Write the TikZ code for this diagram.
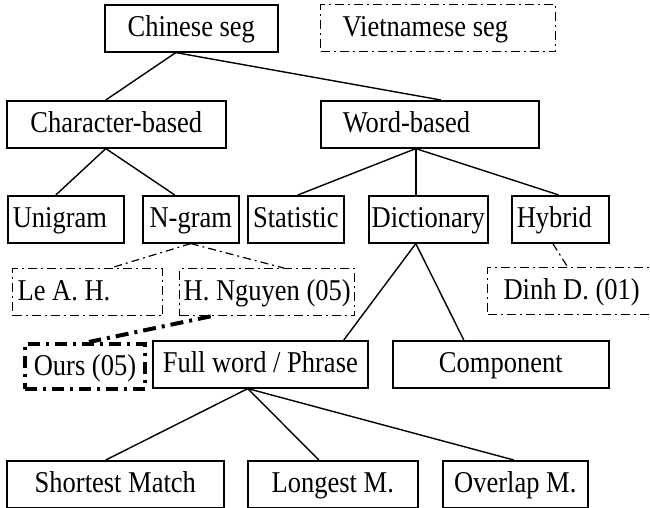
\documentclass[tikz,border=0pt]{standalone}
\usepackage{fontspec}
\setmainfont{Liberation Serif}
\newcommand\figfont{\fontsize{26.5pt}{29pt}\selectfont}
\newcommand\stretchtxt[1]{\scalebox{1}[1.14]{#1}}
\newcommand\lefttxt[2]{\makebox[#1][l]{\stretchtxt{#2}}}
\begin{document}
\begin{tikzpicture}[x=1pt,y=-1pt,
  box/.style={draw, line width=1.6pt, anchor=north west, inner sep=0pt,
    minimum height=47pt, text height=23pt, text depth=6pt, font=\figfont},
  dd/.style={line width=1.3pt, dash pattern=on 9pt off 4pt on 2pt off 4pt},
  ddthick/.style={line width=4pt, dash pattern=on 12pt off 6pt on 3pt off 6pt},
  link/.style={line width=1.4pt},
  dlink/.style={line width=1.2pt, dash pattern=on 8pt off 4pt on 2pt off 4pt},
  tlink/.style={line width=4pt, dash pattern=on 13pt off 6pt on 3pt off 6pt},
  lft/.style={inner xsep=#1}
]
\clip (0,0) rectangle (650,508);
\useasboundingbox (0,0) rectangle (650,508);
% row 0
\node[box, minimum width=173pt] (cs) at (104,4) {\stretchtxt{Chinese seg}};
\node[box, dd, lft=22pt] (vs) at (320,4) {\lefttxt{191pt}{Vietnamese seg}};
% row 1
\node[box, minimum width=219pt] (cb) at (6,100) {\stretchtxt{Character-based}};
\node[box, lft=22pt] (wb) at (320,100) {\lefttxt{174pt}{Word-based}};
% row 2
\node[box, lft=5pt] (uni) at (7,195) {\lefttxt{106pt}{Unigram}};
\node[box, minimum width=96pt] (ng) at (142,195) {\stretchtxt{N-gram}};
\node[box, minimum width=96pt] (st) at (247,195) {\stretchtxt{Statistic}};
\node[box, minimum width=119pt] (dic) at (368,195) {\stretchtxt{Dictionary}};
\node[box, lft=5pt] (hyb) at (511,195) {\lefttxt{87pt}{Hybrid}};
% row 3
\node[box, dd, lft=5pt] (le) at (12,268) {\lefttxt{140pt}{Le A. H.}};
\node[box, dd, minimum width=175pt] (hn) at (179,268) {\stretchtxt{H. Nguyen (05)}};
\node[box, dd, minimum width=168pt] (dinh) at (487,267) {\stretchtxt{Dinh D. (01)}};
% row 4
\node[box, ddthick, minimum width=120pt, minimum height=45pt] (ours) at (23,342) {\stretchtxt{Ours (05)}};
\node[box, minimum width=215pt] (fw) at (152,340) {\stretchtxt{Full word / Phrase}};
\node[box, minimum width=216pt] (comp) at (392,340) {\stretchtxt{Component}};
% row 5
\node[box, minimum width=217pt] (sm) at (6,460) {\stretchtxt{Shortest Match}};
\node[box, minimum width=170pt] (lm) at (247,460) {\stretchtxt{Longest M.}};
\node[box, minimum width=145pt] (om) at (442,460) {\stretchtxt{Overlap M.}};
% connectors
\draw[link] ([xshift=-15.5pt]cs.south) -- ([xshift=-10.5pt]cb.north);
\draw[link] ([xshift=-15.5pt]cs.south) -- ([xshift=11pt]wb.north);
\draw[link] ([xshift=-10.5pt]cb.south) -- ([xshift=-10pt]uni.north);
\draw[link] ([xshift=-10.5pt]cb.south) -- ([xshift=-16pt]ng.north);
\draw[link] ([xshift=-14pt]wb.south) -- ([xshift=2pt]st.north);
\draw[link] ([xshift=-14pt]wb.south) -- ([xshift=-12.5pt]dic.north);
\draw[link] ([xshift=-14pt]wb.south) -- ([xshift=-1.5pt]hyb.north);
\draw[dlink] (ng.south) -- ([xshift=23pt]le.north);
\draw[dlink] (ng.south) -- ([xshift=16.5pt]hn.north);
\draw[dlink] ([xshift=-7.5pt]hyb.south) -- ([xshift=-4pt]dinh.north);
\draw[link] ([xshift=-12.5pt]dic.south) -- ([xshift=83.5pt]fw.north);
\draw[link] ([xshift=-12.5pt]dic.south) -- ([xshift=-37pt]comp.north);
\draw[tlink] ([xshift=-56.5pt]hn.south) -- ([xshift=4pt]ours.north);
\draw[link] ([xshift=-12.5pt]fw.south) -- ([xshift=-9.5pt]sm.north);
\draw[link] ([xshift=-12.5pt]fw.south) -- ([xshift=-14pt]lm.north);
\draw[link] ([xshift=-12.5pt]fw.south) -- ([xshift=-1.5pt]om.north);
\end{tikzpicture}
\end{document}
